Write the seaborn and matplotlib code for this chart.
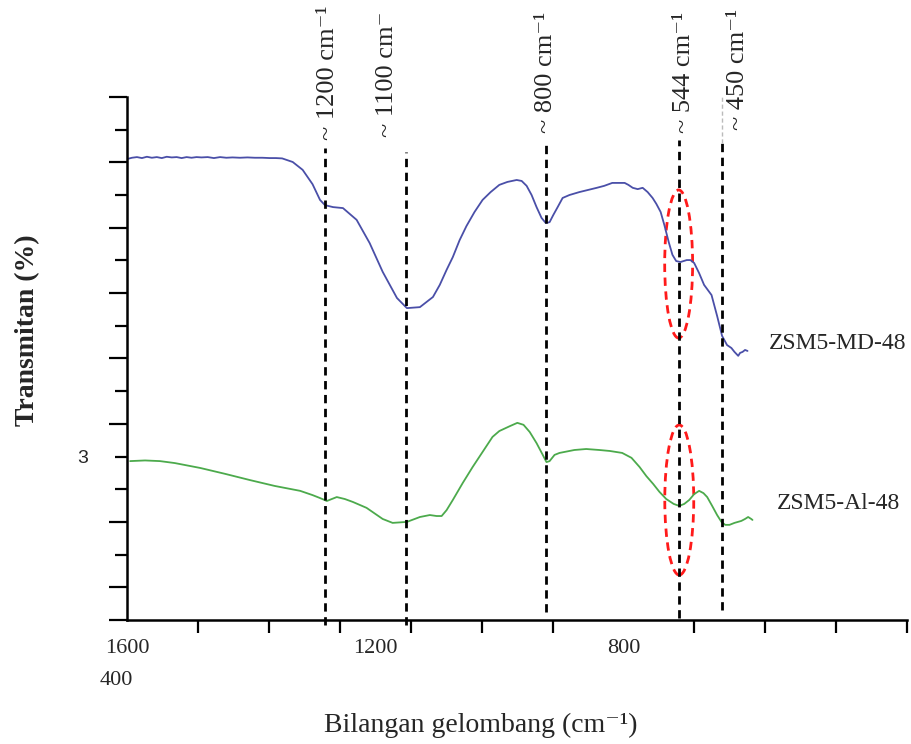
import matplotlib
matplotlib.use("Agg")
import matplotlib.pyplot as plt
import seaborn as sns
import pandas as pd
from matplotlib.patches import Ellipse

sns.set_style("white")
plt.rcParams['font.family'] = ['Liberation Serif', 'DejaVu Serif']

# FTIR spectra (wavenumber, transmittance in axis units)
md_wn = [1600, 1592, 1584, 1576, 1568, 1560, 1552, 1544, 1536, 1528, 1520, 1512, 1504, 1496, 1488,
         1480, 1470, 1460, 1450, 1440, 1430, 1418, 1406, 1394, 1382, 1370, 1360, 1350, 1333, 1317,
         1301, 1289, 1281, 1268, 1252, 1230, 1209, 1188, 1165, 1149, 1128, 1107, 1096, 1085, 1075,
         1064, 1053, 1040, 1027, 1014, 1000, 987, 972, 964, 956, 948, 940, 932, 925, 919,
         913, 906, 898, 887, 871, 843, 831, 818, 806, 798, 792, 785, 777, 769, 761,
         753, 747, 740, 734, 727, 721, 715, 708, 698, 692, 686, 678, 670, 658, 649,
         641, 633, 626, 621, 615, 612, 608, 604, 600]
md_t = [14.10, 14.14, 14.16, 14.13, 14.17, 14.14, 14.16, 14.13, 14.17, 14.15, 14.16, 14.13, 14.16, 14.14, 14.16,
        14.15, 14.16, 14.13, 14.16, 14.14, 14.15, 14.14, 14.15, 14.14, 14.14, 14.13, 14.13, 14.12, 14.01, 13.77,
        13.33, 12.85, 12.69, 12.63, 12.60, 12.24, 11.53, 10.65, 9.85, 9.54, 9.57, 9.88, 10.25, 10.71, 11.10,
        11.62, 12.05, 12.48, 12.85, 13.09, 13.31, 13.40, 13.46, 13.43, 13.28, 13.00, 12.63, 12.30, 12.14, 12.17,
        12.39, 12.63, 12.91, 13.00, 13.09, 13.22, 13.28, 13.37, 13.37, 13.37, 13.31, 13.22, 13.18, 13.22, 13.09,
        12.91, 12.73, 12.48, 12.08, 11.56, 11.17, 10.98, 10.95, 11.01, 11.01, 10.92, 10.61, 10.25, 9.94, 9.30,
        8.69, 8.41, 8.32, 8.20, 8.08, 8.17, 8.20, 8.26, 8.23]

al_wn = [1595, 1571, 1547, 1523, 1482, 1442, 1402, 1362, 1321, 1301, 1289, 1278, 1270, 1262, 1249,
         1236, 1214, 1188, 1172, 1149, 1128, 1112, 1101, 1093, 1085, 1075, 1059, 1043, 1027, 1011,
         1000, 983, 971, 961, 951, 940, 930, 924, 919, 911, 903, 895, 879, 860, 839,
         822, 802, 787, 774, 763, 752, 742, 731, 719, 710, 702, 694, 686, 678, 671,
         665, 657, 649, 642, 636, 629, 621, 610, 604, 599, 594, 592]
al_t = [4.86, 4.88, 4.86, 4.80, 4.65, 4.47, 4.28, 4.10, 3.95, 3.82, 3.73, 3.64, 3.70, 3.76, 3.70,
        3.61, 3.43, 3.09, 2.97, 3.00, 3.15, 3.21, 3.18, 3.18, 3.36, 3.67, 4.19, 4.68, 5.14, 5.60,
        5.78, 5.93, 6.03, 5.97, 5.75, 5.41, 5.05, 4.83, 4.86, 5.05, 5.11, 5.14, 5.20, 5.23, 5.20,
        5.17, 5.11, 4.96, 4.68, 4.40, 4.16, 3.92, 3.70, 3.55, 3.49, 3.55, 3.67, 3.85, 3.95, 3.88,
        3.76, 3.49, 3.21, 3.00, 2.91, 2.91, 2.97, 3.03, 3.09, 3.15, 3.09, 3.06]

# peak markers: line position, line bottom, line top, text position, text
peak_x = [1281, 1151, 924, 710, 641]
peak_lo = [-0.15, -0.15, 0.25, 0.06, 0.3]
peak_hi = [14.44, 14.32, 14.53, 14.68, 14.6]
peak_text_x = [1276, 1181, 924, 703, 615]
peak_text_y = [14.68, 14.78, 14.90, 14.90, 14.99]
peak_text = ["~ 1200 cm\u207b\u00b9", "~ 1100 cm\u207b", "~ 800 cm\u207b\u00b9",
             "~ 544 cm\u207b\u00b9", "~ 450 cm\u207b\u00b9"]

xtick_pos = [1600, 1200, 800]
xtick_labels = ["1600", "1200", "800"]

df_md = pd.DataFrame({'wn': md_wn, 't': md_t})
df_al = pd.DataFrame({'wn': al_wn, 't': al_t})

fig = plt.figure(figsize=(9.12, 7.44), dpi=100)
ax = fig.add_axes([0.1393, 0.1667, 0.8553, 0.7030])

sns.lineplot(data=df_md, x='wn', y='t', ax=ax, color='#4a4fa8', lw=1.3, sort=False, estimator=None)
sns.lineplot(data=df_al, x='wn', y='t', ax=ax, color='#4caa4c', lw=1.3, sort=False, estimator=None)

for x, lo, hi in zip(peak_x, peak_lo, peak_hi):
    ax.plot([x, x], [lo, hi], color='black', lw=2, ls=(0, (3, 2)), clip_on=False)
# faint upper part of the 450 line
ax.plot([641, 641], [14.6, 16.06], color='#bbbbbb', lw=1, ls=(0, (3, 2)), clip_on=False)

for x, y, s in zip(peak_text_x, peak_text_y, peak_text):
    ax.text(x, y, s, rotation=90, ha='center', va='bottom', fontsize=19)

# dashed red ellipses around the 544 band
ax.add_patch(Ellipse((711, 10.89), 45, 4.53, fill=False, ec='#ff1a1a', lw=2, ls=(0, (3, 2))))
ax.add_patch(Ellipse((710, 3.67), 46.7, 4.59, fill=False, ec='#ff1a1a', lw=2, ls=(0, (3, 2))))

ax.text(566, 8.47, "ZSM5-MD-48", fontsize=17, va='center', ha='left')
ax.text(552, 3.55, "ZSM5-Al-48", fontsize=17, va='center', ha='left')

ax.set_xlim(1600, 1600 - 11 * 800 / 7)
ax.set_ylim(0, 16)

ax.set_xticks(xtick_pos)
ax.set_xticklabels(xtick_labels, fontsize=16)
ax.set_xticks([1600 - i * 800 / 7 for i in range(12)], minor=True)
ax.tick_params(axis='x', which='major', length=0, pad=14)
ax.tick_params(axis='x', which='minor', length=9, width=1.6, direction='out', color='black')

ax.set_yticks([16, 14, 12, 10, 8, 6, 3, 1, 0])
ax.set_yticks([15, 13, 11, 9, 7, 5, 4, 2], minor=True)
ax.set_yticklabels([])
ax.tick_params(axis='y', which='major', length=13, width=1.6, direction='out', color='black', left=True)
ax.tick_params(axis='y', which='minor', length=9, width=1.6, direction='out', color='black', left=True)
ax.tick_params(axis='x', which='both', bottom=True)

ax.text(1672, 4.95, "3", fontsize=14, ha='center', va='center', family=['Liberation Sans'])
ax.text(1618, -1.84, "400", fontsize=16, ha='center', va='center')

for side in ['top', 'right']:
    ax.spines[side].set_visible(False)
for side in ['left', 'bottom']:
    ax.spines[side].set_color('black')
    ax.spines[side].set_linewidth(1.8)

ax.set_xlabel("Bilangan gelombang (cm\u207b\u00b9)", fontsize=20)
ax.set_ylabel("Transmitan (%)", fontsize=20, fontweight='bold')
ax.xaxis.set_label_coords(0.454, -0.2008)
ax.yaxis.set_label_coords(-0.128, 0.5545)
ax.xaxis.label.set_va('center')
ax.yaxis.label.set_va('center')

fig.savefig("out.png", dpi=100)
